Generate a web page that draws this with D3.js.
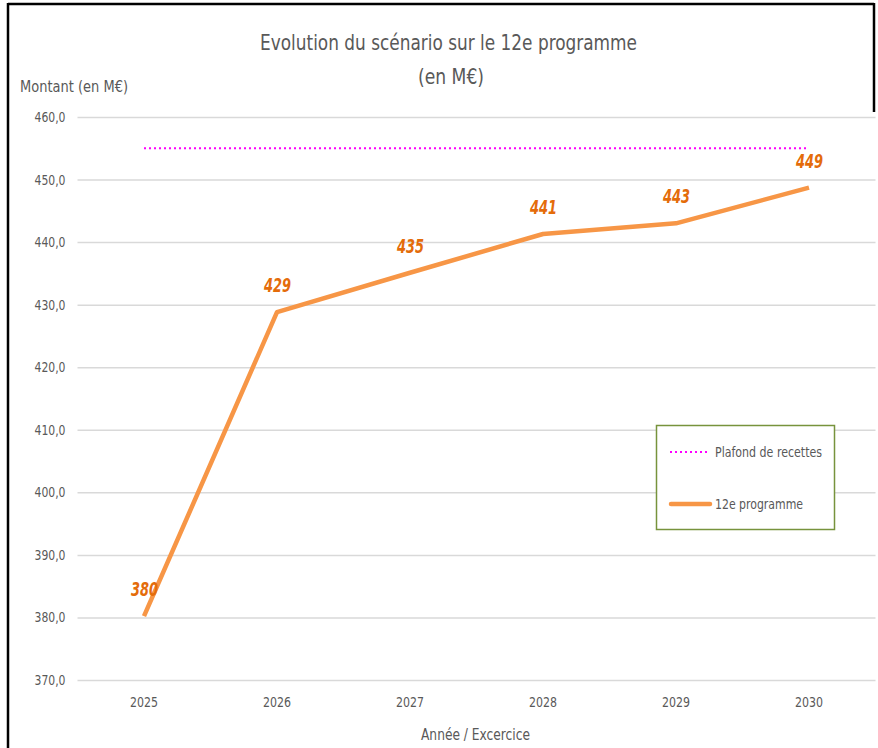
<!DOCTYPE html>
<html>
<head>
<meta charset="utf-8">
<script src="https://cdn.jsdelivr.net/npm/d3@7"></script>
<style>
  html, body { margin: 0; padding: 0; background: #fff; }
  svg { display: block; }
  text { font-family: "DejaVu Sans Condensed", "Open Sans", sans-serif; }
</style>
</head>
<body>
<svg id="chart" width="878" height="748"></svg>
<script>
const years = ["2025", "2026", "2027", "2028", "2029", "2030"];
const programmeValues = [380.2, 428.8, 435.1, 441.3, 443.0, 448.7];
const programmeLabels = ["380", "429", "435", "441", "443", "449"];
const plafondValues = [455, 455, 455, 455, 455, 455];
const yTicks = [370, 380, 390, 400, 410, 420, 430, 440, 450, 460];
const seriesNames = ["Plafond de recettes", "12e programme"];

const svg = d3.select("#chart");
const W = 878, H = 748;
const margin = { left: 77.5, right: 2.5, top: 117, bottom: 68 };

const x = d3.scaleBand().domain(years).range([margin.left, W - margin.right]);
const y = d3.scaleLinear().domain([370, 460]).range([H - margin.bottom, margin.top]);

const grey = "#595959";
function fit(sel, w) { sel.attr("textLength", w).attr("lengthAdjust", "spacingAndGlyphs"); }

// outer border
svg.append("line").attr("x1", 8).attr("x2", 8).attr("y1", 3).attr("y2", H).attr("stroke", "#000").attr("stroke-width", 2.5);
svg.append("line").attr("x1", 8).attr("x2", 874).attr("y1", 4).attr("y2", 4).attr("stroke", "#000").attr("stroke-width", 2.5);
svg.append("line").attr("x1", 874).attr("x2", 874).attr("y1", 3).attr("y2", 112).attr("stroke", "#000").attr("stroke-width", 2.5);

// gridlines + y labels
const yAxis = d3.axisLeft(y).tickValues(yTicks).tickSize(-(W - margin.left - margin.right)).tickPadding(12)
  .tickFormat(d => d3.format(".1f")(d).replace(".", ","));
const gy = svg.append("g").attr("transform", `translate(${margin.left},0)`).call(yAxis);
gy.select(".domain").remove();
gy.selectAll(".tick line").attr("stroke", "#d9d9d9").attr("stroke-width", 1.5);
gy.selectAll(".tick text").attr("fill", grey).style("font-size", "14px").call(fit, 31);

// x axis labels
const xAxis = d3.axisBottom(x).tickSize(0).tickPadding(17);
const gx = svg.append("g").attr("transform", `translate(0,${H - margin.bottom})`).call(xAxis);
gx.select(".domain").remove();
gx.selectAll(".tick text").attr("fill", grey).style("font-size", "14px").call(fit, 28);

const cx = d => x(d) + x.bandwidth() / 2;

// plafond line
const plafond = years.map((yr, i) => ({ yr, v: plafondValues[i] }));
svg.append("path").datum(plafond)
  .attr("d", d3.line().x(d => cx(d.yr)).y(d => y(d.v)))
  .attr("fill", "none").attr("stroke", "#FF00FF").attr("stroke-width", 2)
  .attr("stroke-dasharray", "2,3");

// programme line
const prog = years.map((yr, i) => ({ yr, v: programmeValues[i], lab: programmeLabels[i] }));
svg.append("path").datum(prog)
  .attr("d", d3.line().x(d => cx(d.yr)).y(d => y(d.v)))
  .attr("fill", "none").attr("stroke", "#F79646").attr("stroke-width", 4.5)
  .attr("stroke-linejoin", "round");

svg.selectAll(".dlab").data(prog).enter().append("text")
  .attr("x", d => cx(d.yr) - 13).attr("y", d => y(d.v) - 20)
  .attr("fill", "#E46C0A").style("font-size", "19px").style("font-weight", "bold").style("font-style", "italic")
  .call(fit, 27)
  .text(d => d.lab);

// titles
svg.append("text").attr("x", 260).attr("y", 50).attr("fill", grey)
  .style("font-size", "21px").call(fit, 377).text("Evolution du scénario sur le 12e programme");
svg.append("text").attr("x", 418).attr("y", 84).attr("fill", grey)
  .style("font-size", "21px").call(fit, 66).text("(en M€)");
svg.append("text").attr("x", 20).attr("y", 92).attr("fill", grey)
  .style("font-size", "15px").call(fit, 108).text("Montant (en M€)");
svg.append("text").attr("x", 421).attr("y", 740).attr("fill", grey)
  .style("font-size", "15px").call(fit, 109).text("Année / Excercice");

// legend
const lg = svg.append("g");
lg.append("rect").attr("x", 656.5).attr("y", 425.5).attr("width", 178).attr("height", 104)
  .attr("fill", "#fff").attr("stroke", "#77933C").attr("stroke-width", 1.5);
lg.append("line").attr("x1", 670).attr("x2", 709).attr("y1", 452).attr("y2", 452)
  .attr("stroke", "#FF00FF").attr("stroke-width", 2).attr("stroke-dasharray", "2,3");
lg.append("text").attr("x", 715).attr("y", 457).attr("fill", grey).style("font-size", "14px")
  .call(fit, 107).text(seriesNames[0]);
lg.append("line").attr("x1", 671).attr("x2", 710).attr("y1", 504).attr("y2", 504)
  .attr("stroke", "#F79646").attr("stroke-width", 4.5).attr("stroke-linecap", "round");
lg.append("text").attr("x", 715).attr("y", 509).attr("fill", grey).style("font-size", "14px")
  .call(fit, 88).text(seriesNames[1]);
</script>
</body>
</html>
